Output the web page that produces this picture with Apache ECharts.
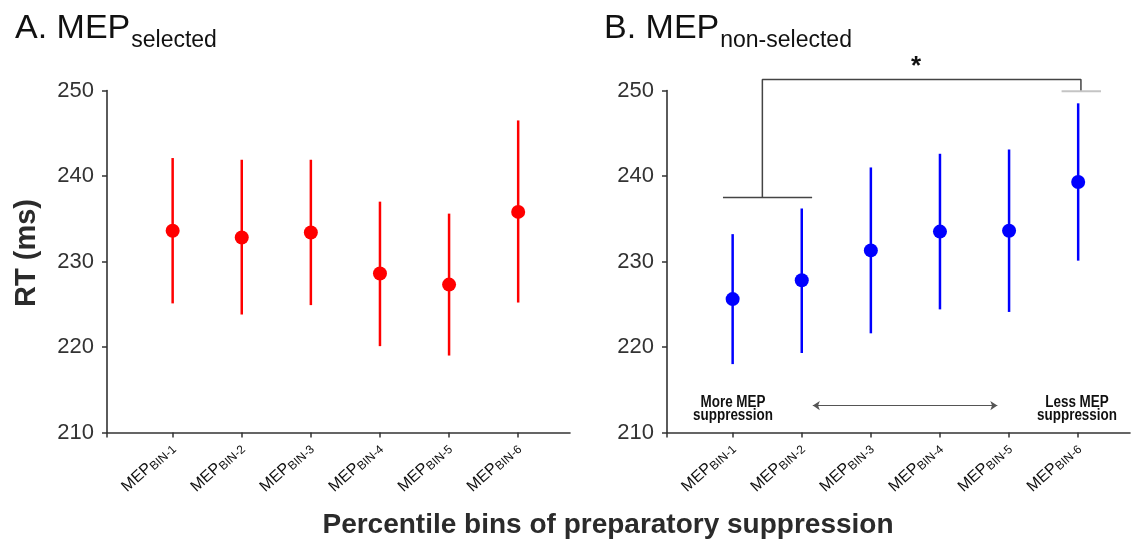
<!DOCTYPE html>
<html><head><meta charset="utf-8">
<script src="https://cdn.jsdelivr.net/npm/echarts@6/dist/echarts.min.js"></script>
<style>html,body{margin:0;padding:0;background:#fff}#c{width:1137px;height:543px}</style>
</head><body><div id="c"></div>
<script>
// ---- data ----
const categories = ['BIN-1', 'BIN-2', 'BIN-3', 'BIN-4', 'BIN-5', 'BIN-6'];
const selMean = [233.6, 232.8, 233.4, 228.6, 227.3, 235.8];
const selLow  = [225.1, 223.8, 224.9, 220.1, 219.0, 225.2];
const selHigh = [242.1, 241.9, 241.9, 237.0, 235.6, 246.5];
const nonMean = [225.6, 227.8, 231.3, 233.5, 233.6, 239.3];
const nonLow  = [218.0, 219.3, 221.6, 224.4, 224.1, 230.1];
const nonHigh = [233.2, 236.2, 241.0, 242.6, 243.1, 248.5];
const yTicks = [210, 220, 230, 240, 250];
// significance bracket (panel B, data coordinates)
const bracketSegments = [
  [[1.43, 237.5], [1.43, 251.3], [6.04, 251.3], [6.04, 249.9]],
  [[0.86, 237.5], [2.15, 237.5]]
];
const grayCap = [[5.76, 249.9], [6.33, 249.9]];
const arrowSpan = [[2.16, 213.15], [4.83, 213.15]];

// ---- layout ----
const X_MIN = 0.05, X_MAX = 6.75;
const pos = categories.map((c, i) => i + 1);
const ctx = document.createElement('canvas').getContext('2d');
function tw(text, font) { ctx.font = font; return ctx.measureText(text).width; }
const FONT = '"Liberation Sans", Arial, sans-serif';

function xAxis(g) {
  return {
    gridIndex: g, type: 'value', min: X_MIN, max: X_MAX,
    axisLine: { show: true, lineStyle: { color: '#333', width: 1.6 } },
    axisTick: { show: true, customValues: [X_MIN].concat(pos), length: 5, lineStyle: { color: '#333', width: 1.5 } },
    axisLabel: {
      customValues: pos, rotate: 42, margin: 13, color: '#111',
      formatter: v => '{m|MEP}{s|' + categories[Math.round(v) - 1] + '}',
      rich: {
        m: { fontSize: 16, fontFamily: FONT, color: '#111', lineHeight: 18 },
        s: { fontSize: 12, fontFamily: FONT, color: '#111', lineHeight: 12, verticalAlign: 'bottom' }
      }
    },
    splitLine: { show: false }
  };
}
function yAxis(g) {
  return {
    gridIndex: g, type: 'value', min: yTicks[0], max: yTicks[yTicks.length - 1], interval: 10,
    axisLine: { show: true, lineStyle: { color: '#333', width: 1.6 } },
    axisTick: { show: true, length: 5, lineStyle: { color: '#333', width: 1.5 } },
    axisLabel: { fontSize: 22, fontFamily: FONT, color: '#333', margin: 13 },
    splitLine: { show: false }
  };
}
function errSeries(g, low, high, color) {
  return {
    type: 'custom', xAxisIndex: g, yAxisIndex: g, silent: true,
    data: pos.map((p, i) => [p, low[i], high[i]]),
    renderItem: (params, api) => {
      const a = api.coord([api.value(0), api.value(1)]);
      const b = api.coord([api.value(0), api.value(2)]);
      return { type: 'line', shape: { x1: a[0], y1: a[1], x2: b[0], y2: b[1] },
               style: { stroke: color, lineWidth: 2.5 } };
    }
  };
}
function dotSeries(g, mean, color) {
  return {
    type: 'scatter', xAxisIndex: g, yAxisIndex: g, silent: true, z: 5,
    symbol: 'circle', symbolSize: 14, itemStyle: { color: color, opacity: 1 },
    data: pos.map((p, i) => [p, mean[i]])
  };
}
const series = [
  errSeries(0, selLow, selHigh, '#ff0000'),
  dotSeries(0, selMean, '#ff0000'),
  errSeries(1, nonLow, nonHigh, '#0000ff'),
  dotSeries(1, nonMean, '#0000ff')
];
bracketSegments.forEach(seg => series.push({
  type: 'line', xAxisIndex: 1, yAxisIndex: 1, silent: true, clip: false, symbol: 'none',
  lineStyle: { color: '#444', width: 1.5 }, data: seg
}));
series.push({
  type: 'line', xAxisIndex: 1, yAxisIndex: 1, silent: true, clip: false, symbol: 'none',
  lineStyle: { color: '#c4c4c4', width: 2 }, data: grayCap
});
series.push({
  type: 'line', xAxisIndex: 1, yAxisIndex: 1, silent: true, symbol: 'none', data: [],
  markLine: {
    silent: true, symbol: ['arrow', 'arrow'], symbolSize: 7,
    label: { show: false },
    lineStyle: { color: '#555', width: 1, type: 'solid' },
    data: [[{ coord: arrowSpan[0] }, { coord: arrowSpan[1] }]]
  }
});

// titles
const tA = 'A. MEP', tB = 'B. MEP';
const fMain = '34px ' + FONT, fSub = '23px ' + FONT;
const noteStyle = { font: 'bold 16px ' + FONT, lineHeight: 12.5, fill: '#111', textAlign: 'center', textVerticalAlign: 'middle', verticalAlign: 'middle', x: 0, y: 0 };
const graphic = [
  { type: 'text', left: 15, top: 12, style: { text: tA, font: fMain, fill: '#111' } },
  { type: 'text', left: 15 + tw(tA, fMain) + 1, top: 29, style: { text: 'selected', font: fSub, fill: '#111' } },
  { type: 'text', left: 604, top: 12, style: { text: tB, font: fMain, fill: '#111' } },
  { type: 'text', left: 604 + tw(tB, fMain) + 1, top: 29, style: { text: 'non-selected', font: fSub, fill: '#111' } },
  { type: 'text', x: 27, y: 253, rotation: Math.PI / 2, style: { text: 'RT (ms)', font: 'bold 29px ' + FONT, fill: '#2b2b2b', textAlign: 'center', textVerticalAlign: 'middle', verticalAlign: 'middle' } },
  { type: 'text', x: 608, y: 525, style: { text: 'Percentile bins of preparatory suppression', font: 'bold 28px ' + FONT, fill: '#2b2b2b', textAlign: 'center', textVerticalAlign: 'middle', verticalAlign: 'middle' } },
  { type: 'text', x: 733, y: 409, scaleX: 0.84, style: Object.assign({ text: 'More MEP\nsuppression' }, noteStyle) },
  { type: 'text', x: 1077, y: 409, scaleX: 0.84, style: Object.assign({ text: 'Less MEP\nsuppression' }, noteStyle) },
  { type: 'text', x: 916, y: 67, style: { text: '*', font: 'bold 26px ' + FONT, fill: '#111', textAlign: 'center', textVerticalAlign: 'middle', verticalAlign: 'middle' } }
];

const chart = echarts.init(document.getElementById('c'), null, { renderer: 'canvas' });
chart.setOption({
  animation: false,
  backgroundColor: '#ffffff',
  grid: [
    { left: 107, top: 90.5, width: 463, height: 342 },
    { left: 667, top: 90.5, width: 463, height: 342 }
  ],
  xAxis: [xAxis(0), xAxis(1)],
  yAxis: [yAxis(0), yAxis(1)],
  series: series,
  graphic: graphic
});
</script>
</body></html>
